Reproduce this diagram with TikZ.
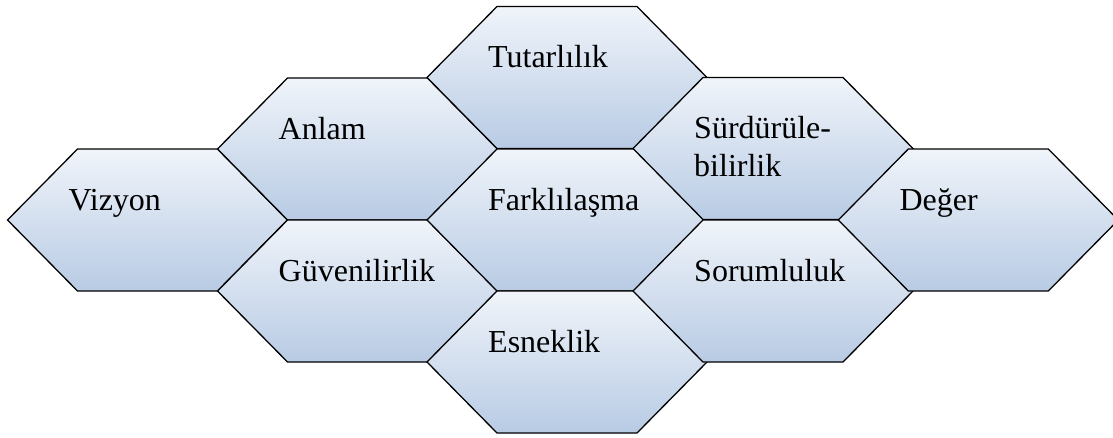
\documentclass[tikz,border=0pt]{standalone}
\usepackage{fontspec}
\setmainfont{Liberation Serif}
\definecolor{cellTop}{RGB}{240,244,250}
\definecolor{cellBottom}{RGB}{184,203,228}
\tikzset{
  cell/.style={draw=black, line width=1.3pt, line join=miter,
    top color=cellTop, bottom color=cellBottom},
  celltext/.style={anchor=base west, inner sep=0pt, align=left,
    font=\fontsize{32}{37.7}\selectfont},
}
% one honeycomb cell: [extra lines below the first], centre x, centre y, node name, label
% (a multi-line label sits on the baseline of its last line)
\newcommand\hexcell[5][0]{%
  \path[cell] (#2-140,#3) -- (#2-70,#3-71) -- (#2+70,#3-71) -- (#2+140,#3)
    -- (#2+70,#3+71) -- (#2-70,#3+71) -- cycle;
  \node[celltext] (#4) at (#2-79,#3-10+37.7*#1) {#5};
}
\begin{document}
\begin{tikzpicture}[x=1pt,y=-1pt]
\useasboundingbox (0,0) rectangle (1113,437);
\hexcell{147.5}{220}{vizyon}{Vizyon}
\hexcell{357.5}{149}{anlam}{Anlam}
\hexcell{357.5}{291}{guven}{Güvenilirlik}
\hexcell{567}{77.5}{tutarlilik}{Tutarlılık}
\hexcell{567}{220}{farklilasma}{Farklılaşma}
\hexcell{567}{362}{esneklik}{Esneklik}
\hexcell[1]{773}{148.5}{surdurulebilirlik}{Sürdürüle-\\bilirlik}
\hexcell{773}{291}{sorumluluk}{Sorumluluk}
\hexcell{978.3}{220}{deger}{Değer}
\end{tikzpicture}
\end{document}
